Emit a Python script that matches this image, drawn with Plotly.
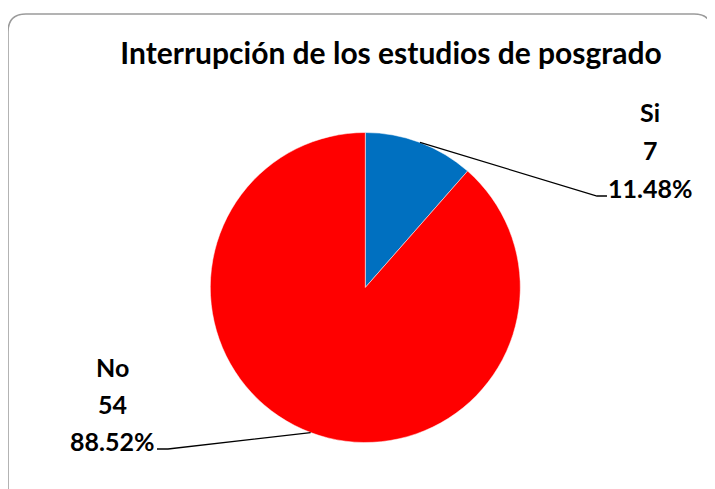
import math
import plotly.graph_objects as go

# datos de la encuesta
categorias = ['Si', 'No']
cantidades = [7, 54]
porcentajes = ['11.48%', '88.52%']
colores = ['#0070C0', '#FF0000']

# la pagina deja 8px de margen en el body
OFF = 8
W, H = 715 - OFF, 489 - OFF
FONT = 'Lato'

# pixel de la ventana -> paper
def px(x):
    return (x - OFF) / W

def py(y):
    return 1 - (y - OFF) / H

# centro y radio de la torta (pixeles)
cx, cy, R = 365.3, 287.5, 155

fig = go.Figure(go.Pie(
    labels=categorias,
    values=cantidades,
    marker=dict(colors=colores, line=dict(color='white', width=0.5)),
    sort=False,
    direction='clockwise',
    rotation=0,
    textinfo='none',
    hoverinfo='label+value+percent',
    domain=dict(x=[px(cx - R), px(cx + R)], y=[py(cy + R), py(cy - R)]),
    showlegend=False,
))

# etiquetas de datos (nombre, valor, porcentaje)
label_pos = {'Si': (650, [112, 150, 188]), 'No': (112, [367, 404, 441])}
for cat, val, pct in zip(categorias, cantidades, porcentajes):
    x0, ys = label_pos[cat]
    for txt, yy in zip([cat, str(val), pct], ys):
        fig.add_annotation(x=px(x0), y=py(yy), xref='paper', yref='paper',
                           text=txt, showarrow=False, xanchor='center', yanchor='middle',
                           font=dict(family=FONT, size=25, color='black', weight='bold'))

# lineas guia desde el punto medio de cada porcion
total = sum(cantidades)
acum = 0
ends = {'Si': [(597, 196), (607, 196)], 'No': [(168, 449), (157, 449)]}
for cat, val in zip(categorias, cantidades):
    mid = (acum + val / 2) / total * 2 * math.pi
    acum += val
    sx = cx + R * math.sin(mid)
    sy = cy - R * math.cos(mid)
    pts = [(sx, sy)] + ends[cat]
    path = 'M ' + ' L '.join(f'{px(a):.5f},{py(b):.5f}' for a, b in pts)
    fig.add_shape(type='path', path=path, xref='paper', yref='paper',
                  line=dict(color='black', width=1.3))

# borde redondeado del area del grafico
l, t, r, b, k = 8, 14, 712, 505, 18
border = (f'M {px(l)},{py(t + k)} Q {px(l)},{py(t)} {px(l + k)},{py(t)} '
          f'L {px(r - k)},{py(t)} Q {px(r)},{py(t)} {px(r)},{py(t + k)} '
          f'L {px(r)},{py(b - k)} Q {px(r)},{py(b)} {px(r - k)},{py(b)} '
          f'L {px(l + k)},{py(b)} Q {px(l)},{py(b)} {px(l)},{py(b - k)} Z')
fig.add_shape(type='path', path=border, xref='paper', yref='paper',
              line=dict(color='#9a9a9a', width=1.5))

fig.update_layout(
    width=W, height=H,
    margin=dict(l=0, r=0, t=0, b=0),
    paper_bgcolor='white',
    title=dict(text='Interrupción de los estudios de posgrado',
               x=px(391), y=py(53), xanchor='center', yanchor='middle',
               font=dict(family=FONT, size=30, color='black', weight='bold')),
)

fig.write_html('out.html')
